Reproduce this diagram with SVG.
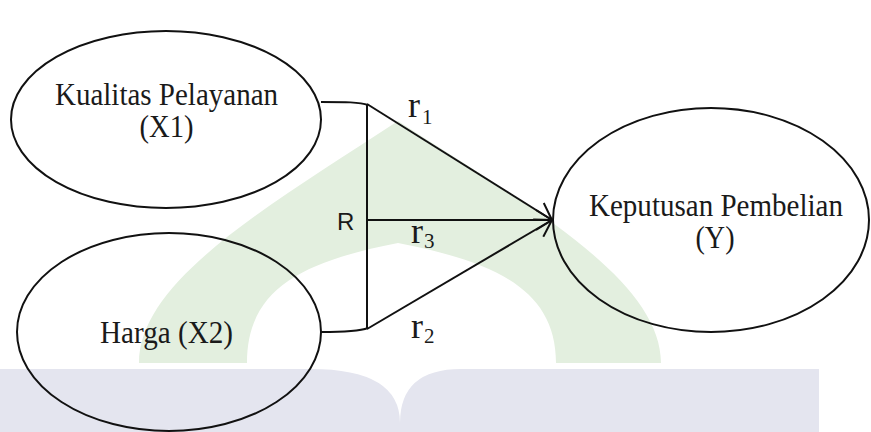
<svg xmlns="http://www.w3.org/2000/svg" width="871" height="432" viewBox="0 0 871 432">
  <style>
    .node { fill: none; stroke: #111; stroke-width: 2; }
    .conn { fill: none; stroke: #111; stroke-width: 2; }
    .lbl { font-family: "Liberation Serif", "Times New Roman", serif; font-size: 31px; fill: #1a1a1a; text-anchor: middle; }
    .r { font-family: "Liberation Serif", "Times New Roman", serif; font-size: 36px; fill: #1a1a1a; }
    .sub { font-size: 21px; }
    .R { font-family: "Liberation Sans", Arial, sans-serif; font-size: 24px; fill: #1a1a1a; }
  </style>
  <defs>
    <marker id="arr" markerUnits="userSpaceOnUse" markerWidth="22" markerHeight="22" refX="19" refY="11" orient="auto">
      <path d="M3,1 L19,11 L3,21" fill="none" stroke="#111" stroke-width="2"/>
    </marker>
  </defs>
  <g id="watermark">
    <path fill="#e3efdf" fill-rule="evenodd" d="M139,363 C139,280 270,205 398,121 C528,205 661,280 661,363 Z M247,363 C247,290 300,262 398,243 C496,262 556,290 556,363 Z"/>
    <path fill="#e4e5ef" d="M0,369 L311,369 Q400,369 400,423 Q400,369 461,369 L819,369 L819,432 L0,432 Z"/>
  </g>
  <g id="node-x1">
    <ellipse class="node" cx="166" cy="119.5" rx="155" ry="88.5"/>
    <text class="lbl" x="166.5" y="105" textLength="223" lengthAdjust="spacingAndGlyphs">Kualitas Pelayanan</text>
    <text class="lbl" x="166.5" y="137" textLength="54" lengthAdjust="spacingAndGlyphs">(X1)</text>
  </g>
  <g id="node-x2">
    <ellipse class="node" cx="169" cy="332" rx="152" ry="99"/>
    <text class="lbl" x="166.5" y="343" textLength="133" lengthAdjust="spacingAndGlyphs">Harga (X2)</text>
  </g>
  <g id="node-y">
    <ellipse class="node" cx="711" cy="220" rx="158" ry="112"/>
    <text class="lbl" x="716" y="216" textLength="254" lengthAdjust="spacingAndGlyphs">Keputusan Pembelian</text>
    <text class="lbl" x="715" y="248" textLength="39" lengthAdjust="spacingAndGlyphs">(Y)</text>
  </g>
  <g id="connectors">
    <path class="conn" d="M321,102 C345,102 360,102 368,105"/>
    <path class="conn" d="M321,332 C345,332 360,331 368,328"/>
    <line class="conn" x1="367" y1="104" x2="367" y2="329"/>
    <line class="conn" x1="367" y1="104" x2="552" y2="220" marker-end="url(#arr)"/>
    <line class="conn" x1="367" y1="220" x2="552" y2="220" marker-end="url(#arr)"/>
    <line class="conn" x1="367" y1="329" x2="552" y2="220" marker-end="url(#arr)"/>
  </g>
  <g id="labels">
    <text class="R" x="337" y="230">R</text>
    <text class="r" x="408" y="117">r<tspan class="sub" dx="2" dy="7">1</tspan></text>
    <text class="r" x="411" y="243">r<tspan class="sub" dx="1" dy="5">3</tspan></text>
    <text class="r" x="411" y="338">r<tspan class="sub" dx="1" dy="5">2</tspan></text>
  </g>
</svg>
